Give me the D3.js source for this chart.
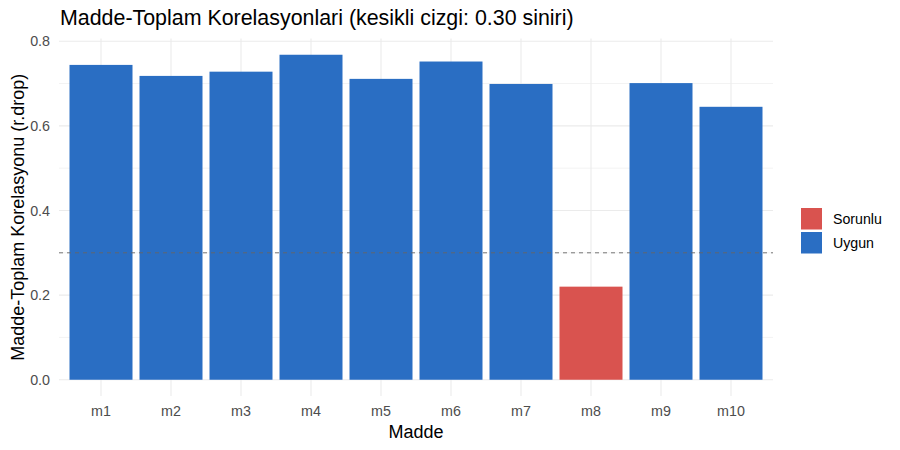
<!DOCTYPE html>
<html>
<head>
<meta charset="utf-8">
<script src="https://cdn.jsdelivr.net/npm/d3@7"></script>
<style>
  body { margin: 0; background: #fff; }
  text { font-family: "Liberation Sans", Arial, sans-serif; }
</style>
</head>
<body>
<div id="chart"></div>
<script>
const items = ['m1', 'm2', 'm3', 'm4', 'm5', 'm6', 'm7', 'm8', 'm9', 'm10'];
const rdrop = [0.744, 0.718, 0.728, 0.768, 0.711, 0.752, 0.699, 0.220, 0.701, 0.645];
const status = ['Uygun', 'Uygun', 'Uygun', 'Uygun', 'Uygun', 'Uygun', 'Uygun', 'Sorunlu', 'Uygun', 'Uygun'];
const legendLabels = ['Sorunlu', 'Uygun'];
const yTicks = [0, 0.2, 0.4, 0.6, 0.8];
const yMinor = [0.1, 0.3, 0.5, 0.7];
const cutoff = 0.30;

const width = 900, height = 450;
const panel = {left: 59, right: 773, top: 38.5, bottom: 396};

const color = d3.scaleOrdinal()
  .domain(legendLabels)
  .range(['#D9534F', '#2A6EC3']);

const yMax = d3.max(rdrop);
const y = d3.scaleLinear()
  .domain([-0.05 * yMax, yMax * 1.05])
  .range([panel.bottom, panel.top]);

const x = d3.scaleBand()
  .domain(items)
  .range([panel.left, panel.right])
  .paddingInner(0.1)
  .paddingOuter(0.15);

const svg = d3.select('#chart').append('svg')
  .attr('width', width)
  .attr('height', height)
  .attr('viewBox', [0, 0, width, height]);

// grid
const grid = svg.append('g').attr('stroke', '#EBEBEB');
grid.selectAll('.minor')
  .data(yMinor)
  .join('line')
  .attr('x1', panel.left).attr('x2', panel.right)
  .attr('y1', d => y(d)).attr('y2', d => y(d))
  .attr('stroke-width', 0.6);
grid.selectAll('.major')
  .data(yTicks)
  .join('line')
  .attr('x1', panel.left).attr('x2', panel.right)
  .attr('y1', d => y(d)).attr('y2', d => y(d))
  .attr('stroke-width', 1.1);
grid.selectAll('.vert')
  .data(items)
  .join('line')
  .attr('x1', d => x(d) + x.bandwidth() / 2).attr('x2', d => x(d) + x.bandwidth() / 2)
  .attr('y1', panel.top).attr('y2', panel.bottom)
  .attr('stroke-width', 1.1);

// bars
svg.append('g')
  .selectAll('rect')
  .data(items)
  .join('rect')
  .attr('x', d => x(d))
  .attr('width', x.bandwidth())
  .attr('y', (d, i) => y(rdrop[i]))
  .attr('height', (d, i) => y(0) - y(rdrop[i]))
  .attr('fill', (d, i) => color(status[i]));

// cutoff line
svg.append('line')
  .attr('x1', panel.left).attr('x2', panel.right)
  .attr('y1', y(cutoff)).attr('y2', y(cutoff))
  .attr('stroke', '#666')
  .attr('stroke-width', 0.9)
  .attr('stroke-dasharray', '4,4');

// y axis labels
const yAxis = svg.append('g')
  .attr('transform', `translate(${panel.left - 4},0)`)
  .call(d3.axisLeft(y).tickValues(yTicks).tickFormat(d3.format('.1f')).tickSize(0).tickPadding(5));
yAxis.select('.domain').remove();
yAxis.selectAll('text')
  .attr('fill', '#4D4D4D')
  .style('font-size', '14.3px')
  .style('font-family', '"Liberation Sans", Arial, sans-serif');

// x axis labels
const xAxis = svg.append('g')
  .attr('transform', `translate(0,${panel.bottom + 3})`)
  .call(d3.axisBottom(x).tickSize(0).tickPadding(7));
xAxis.select('.domain').remove();
xAxis.selectAll('text')
  .attr('fill', '#4D4D4D')
  .style('font-size', '14.3px')
  .style('font-family', '"Liberation Sans", Arial, sans-serif');

// titles
svg.append('text')
  .attr('x', panel.left + 1)
  .attr('y', 25)
  .style('font-size', '21.4px')
  .attr('fill', '#000')
  .text('Madde-Toplam Korelasyonlari (kesikli cizgi: 0.30 siniri)');

svg.append('text')
  .attr('x', (panel.left + panel.right) / 2)
  .attr('y', 438)
  .attr('text-anchor', 'middle')
  .style('font-size', '18px')
  .text('Madde');

svg.append('text')
  .attr('transform', `translate(24,${(panel.top + panel.bottom) / 2}) rotate(-90)`)
  .attr('text-anchor', 'middle')
  .style('font-size', '18px')
  .text('Madde-Toplam Korelasyonu (r.drop)');

// legend
const legend = svg.append('g')
  .attr('transform', 'translate(801,208)');
const row = legend.selectAll('g')
  .data(legendLabels)
  .join('g')
  .attr('transform', (d, i) => `translate(0,${i * 24})`);
row.append('rect')
  .attr('width', 21)
  .attr('height', 21.5)
  .attr('fill', d => color(d));
row.append('text')
  .attr('x', 32)
  .attr('y', 16)
  .style('font-size', '14.2px')
  .attr('fill', '#000')
  .text(d => d);
</script>
</body>
</html>
